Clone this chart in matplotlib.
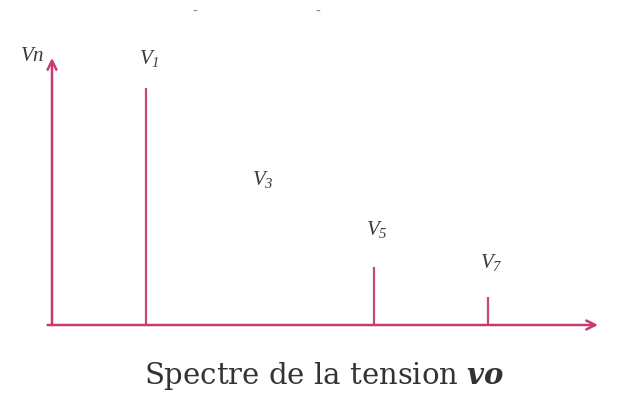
import matplotlib.pyplot as plt

plt.rcParams['mathtext.fontset'] = 'custom'
plt.rcParams['mathtext.it'] = 'Liberation Serif:italic'
plt.rcParams['mathtext.rm'] = 'Liberation Serif:italic'
plt.rcParams['mathtext.bf'] = 'DejaVu Serif:bold:italic'

# harmonic orders and their amplitudes (V1 = 1)
orders = [1, 3, 5, 7]
amplitudes = [1.0, 0.0, 0.245, 0.12]
labels = ['$V_1$', '$V_3$', '$V_5$', '$V_7$']
label_heights = [1.08, 0.57, 0.36, 0.22]

AXIS_COLOR = '#c93a72'
STEM_COLOR = '#c8457c'

W, H = 619, 394
fig = plt.figure(figsize=(W / 100, H / 100), dpi=100)

# axes box in pixels: left edge at y-axis, bottom at x-axis
x0, x1 = 52, 598
y_base, y_top = 325, 58
ax = fig.add_axes([x0 / W, (H - y_base) / H, (x1 - x0) / W, (y_base - y_top) / H])
px_per_unit = 57.0
ax.set_xlim(1 - (146 - x0) / px_per_unit, 1 + (x1 - 146) / px_per_unit)
ax.set_ylim(0, (y_base - y_top) / 237.0)
ax.axis('off')

# spectrum lines
ax.vlines(orders, 0, amplitudes, color=STEM_COLOR, lw=1.6)

for n, lab, h in zip(orders, labels, label_heights):
    ax.text(n + 0.05, h, lab, ha='center', va='bottom', fontsize=15, color='#3a3a3a')

# axes with arrows
ax.annotate('', xy=(1.0, 0), xytext=(-0.008, 0), xycoords='axes fraction',
            arrowprops=dict(arrowstyle='->', color=AXIS_COLOR, lw=1.8,
                            mutation_scale=16, shrinkA=0, shrinkB=0),
            annotation_clip=False)
ax.annotate('', xy=(0, 1.0), xytext=(0, 0), xycoords='axes fraction',
            arrowprops=dict(arrowstyle='->', color=AXIS_COLOR, lw=1.8,
                            mutation_scale=16, shrinkA=0, shrinkB=0),
            annotation_clip=False)

fig.text(32 / W, 1 - 55 / H, '$Vn$', ha='center', va='center', fontsize=15, color='#3a3a3a')

# leftover marks at the top edge
fig.text(195 / W, 1 - 12 / H, '-', ha='center', va='center', fontsize=10, color='#888888')
fig.text(318 / W, 1 - 12 / H, '-', ha='center', va='center', fontsize=10, color='#888888')

fig.text(324 / W, 1 - 376 / H, r'Spectre de la tension $\mathbf{vo}$', ha='center', va='center',
         fontsize=21, family='DejaVu Serif', color='#333333')

fig.savefig('out.png', dpi=100, facecolor='white')
